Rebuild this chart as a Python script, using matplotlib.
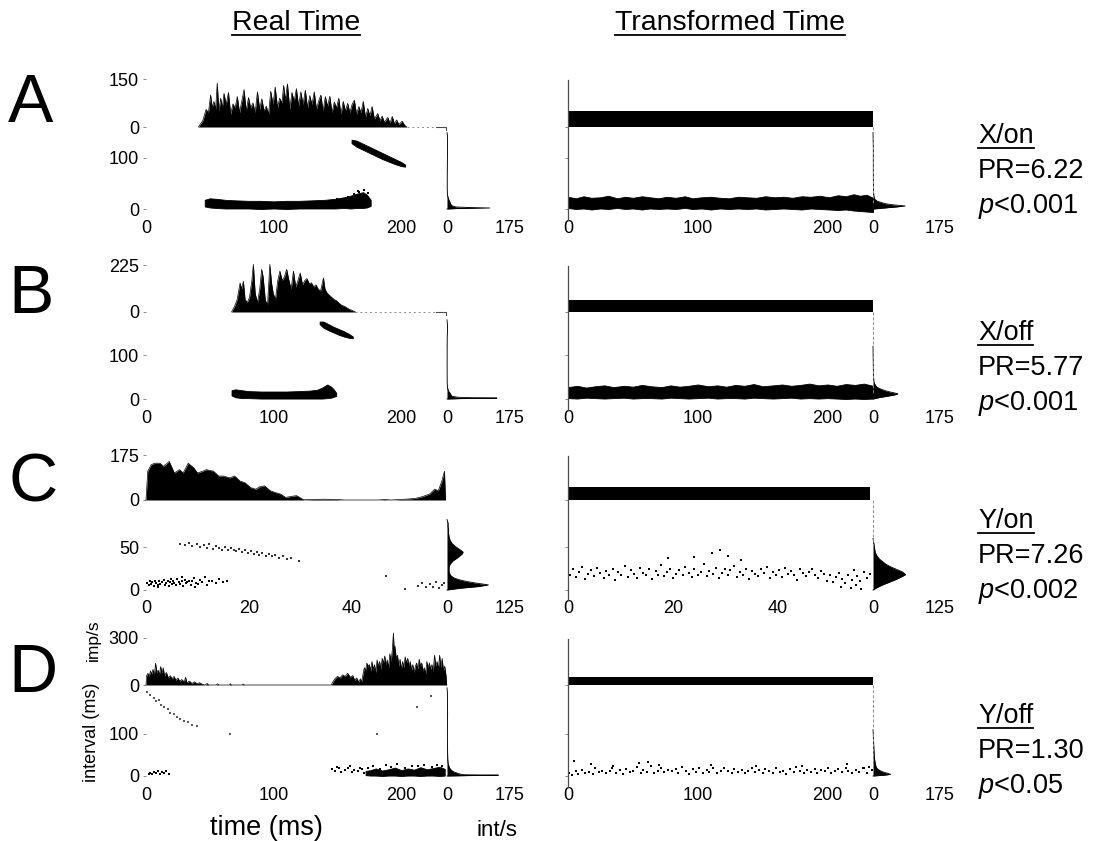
import matplotlib
matplotlib.use("Agg")
import matplotlib.pyplot as plt
from matplotlib.lines import Line2D

plt.rcParams['font.family'] = ['Liberation Sans', 'DejaVu Sans']
plt.rcParams['mathtext.fontset'] = 'custom'
plt.rcParams['mathtext.it'] = 'Liberation Sans:italic'
plt.rcParams['mathtext.rm'] = 'Liberation Sans'

# ---------------- data ----------------
# Real-time PSTHs: vertex times (ms) and rates (imp/s)
A_psth_t = [41, 44.5, 47.1, 48.9, 50.6, 51.9, 53.2, 54.5, 55.8, 57.1, 58.5, 59.8, 61.1, 62.8, 64.6,
            66.3, 68.1, 69.8, 71.5, 73.3, 75, 76.8, 78.5, 80.3, 82, 83.8, 85.5, 87.3, 89, 90.7,
            92.5, 94.2, 96, 97.7, 99.5, 101.2, 103, 104.7, 106.5, 107.8, 109.1, 110.8, 112.6, 114.3, 116.1,
            117.8, 119.5, 121.3, 123, 124.8, 126.5, 128.3, 130, 131.8, 133.5, 135.3, 137, 138.7, 140.5, 142.2,
            144, 145.7, 147.5, 149.2, 151, 152.7, 154.5, 156.2, 158, 159.7, 161.4, 163.2, 164.9, 166.7, 168.4,
            170.2, 171.9, 173.7, 175.4, 177.1, 178.9, 181.5, 183.3, 185, 186.7, 189.4, 191.1, 192.9, 194.6, 196.3,
            198.1, 200.7, 202.5, 204.2]
A_psth_r = [0, 20, 55, 45, 100, 60, 80, 55, 137, 50, 90, 60, 105, 70, 108,
            40, 72, 60, 95, 45, 80, 117, 50, 92, 60, 75, 45, 110, 55, 88,
            50, 65, 40, 112, 70, 125, 60, 90, 75, 130, 85, 135, 55, 108, 80,
            120, 65, 110, 70, 115, 60, 98, 70, 110, 55, 82, 100, 50, 95, 65,
            96, 45, 78, 60, 90, 40, 80, 50, 74, 45, 70, 84, 40, 64, 45,
            80, 30, 58, 35, 64, 25, 42, 20, 34, 15, 30, 12, 33, 10, 22,
            8, 18, 6, 0]

B_psth_t = [67, 69.6, 71.4, 73.7, 74.9, 76.3, 77.6, 79.3, 81.1, 82.9, 84.1, 85.5, 87.3, 89.1, 90.6,
            91.7, 93.5, 95.2, 97.0, 98.3, 99.6, 101.4, 103.2, 104.9, 106.7, 108.5, 110.2, 112, 113.7, 115.5,
            117.3, 119, 120.8, 122.6, 124.3, 126.1, 127.9, 129.6, 131.4, 133.2, 134.9, 136.7, 139, 140.2, 142,
            143.7, 145.5, 147.3, 149, 150.8, 152.6, 154.3, 156.1, 157.8, 159.6, 161.4, 163.1, 164]
B_psth_r = [0, 30, 60, 139, 110, 147, 60, 45, 70, 150, 228, 90, 45, 110, 204,
            170, 55, 35, 228, 140, 90, 60, 150, 196, 150, 170, 204, 150, 110, 196,
            120, 150, 187, 130, 150, 160, 135, 140, 120, 130, 110, 100, 163, 110, 90,
            80, 70, 60, 55, 45, 35, 30, 25, 18, 12, 8, 3, 0]

C_psth_t = [0, 0.34, 1.0, 1.7, 2.7, 3.4, 4.5, 5.5, 6.5, 7.2, 8.2, 9.3, 10.0, 11.0, 11.7,
            13.1, 14.1, 15.1, 16.2, 17.2, 18.2, 19.2, 20.3, 21.3, 22.0, 23.0, 24.1, 25.1, 26.1, 27.1,
            28.2, 29.2, 30.6, 32.3, 34.5, 37.1, 38.5, 45.0, 46.3, 47.5, 50.2, 52.2, 53.6, 55.0, 56.0,
            56.7, 57.4, 57.9, 58.1]
C_psth_r = [0, 112, 137, 143, 143, 131, 150, 105, 118, 105, 143, 124, 105, 112, 118,
            112, 93, 93, 86, 93, 74, 67, 48, 42, 51, 55, 36, 29, 23, 10,
            14, 17, 1, 2, 3, 2, 0, 0, 2, 0, 3, 6, 13, 23, 42,
            36, 74, 112, 0]

D_psth_t = [0, 0.5, 1.5, 2.5, 3.5, 4.5, 5.5, 6.5, 7.5, 8.5, 9.5, 10.5, 11.5, 12.5, 13.5,
            14.5, 16, 17.5, 19, 20.5, 22, 23.5, 25, 26.5, 28, 30, 31, 32, 34, 36,
            38, 40, 42, 44, 46, 48, 49, 55, 56, 57, 65, 66, 67, 75, 76,
            77, 145, 146, 148, 150, 152, 154, 156, 158, 160, 162, 163.5, 165, 166.5, 168,
            169, 170, 171, 172, 173, 174, 175, 176, 177, 178, 179, 180, 181, 182, 183,
            184, 185, 186, 187, 188, 189, 190, 191, 192, 193, 193.8, 194.5, 195, 196, 197,
            198, 199, 200, 201, 202, 203, 204, 205, 206, 207, 208, 209, 210, 211, 212,
            213, 214, 215, 216, 217, 218, 219, 220, 221, 222, 223, 224, 225, 226, 227,
            228, 229, 230, 231, 232, 233, 234, 235, 235.5]
D_psth_r = [0, 60, 75, 55, 90, 70, 100, 60, 139, 80, 95, 65, 118, 75, 110,
            60, 80, 45, 60, 40, 55, 30, 45, 25, 35, 20, 50, 15, 25, 10,
            20, 8, 15, 5, 0, 10, 0, 0, 8, 0, 0, 8, 0, 0, 6,
            0, 0, 15, 40, 55, 45, 65, 55, 75, 50, 60, 30, 45, 20, 40,
            20, 70, 110, 95, 140, 120, 130, 90, 150, 100, 130, 80, 160, 120, 150,
            100, 170, 140, 185, 130, 160, 110, 200, 150, 230, 332, 200, 250, 170, 190,
            120, 165, 100, 150, 110, 180, 140, 170, 120, 150, 95, 130, 80, 120, 140,
            100, 165, 120, 140, 90, 110, 70, 150, 110, 140, 100, 130, 85, 190, 120,
            150, 100, 190, 110, 170, 90, 120, 60, 0]

# Mean rate in transformed time (imp/s)
A_bar, B_bar, C_bar, D_bar = 49, 58, 50, 50

# Interval scatter: dense bands (ms, lower/upper interval in ms)
A_low_t = [46, 50, 55, 62, 70, 80, 90, 100, 110, 120, 130, 140, 148, 155, 160, 165, 170, 173, 176]
A_low_lo = [5, 3, 2, 1, 1, 1, 0, 1, 0, 1, 1, 1, 1, 2, 1, 2, 2, 3, 6]
A_low_hi = [18, 21, 20, 18, 17, 16, 16, 15, 16, 16, 17, 18, 20, 23, 26, 30, 33, 28, 18]
A_up_t = [161, 165, 170, 175, 180, 185, 190, 195, 200, 203]
A_up_lo = [129, 122, 116, 110, 104, 98, 93, 88, 84, 83]
A_up_hi = [136, 134, 128, 122, 116, 110, 104, 98, 92, 87]
A_stray_t = [158, 163, 166, 169, 171, 174, 150, 167]
A_stray_y = [24, 30, 35, 28, 38, 31, 20, 33]

B_low_t = [67, 70, 75, 80, 90, 100, 110, 120, 128, 134, 138, 142, 145, 147, 149]
B_low_lo = [8, 4, 2, 2, 1, 1, 1, 1, 1, 1, 1, 2, 3, 5, 7]
B_low_hi = [20, 22, 20, 18, 17, 17, 17, 18, 19, 21, 26, 33, 28, 22, 14]
B_up_t = [136, 139, 143, 147, 151, 155, 159, 162]
B_up_lo = [170, 162, 156, 151, 146, 142, 139, 138]
B_up_hi = [176, 176, 170, 164, 159, 154, 148, 142]

# Interval scatter: sparse points (ms, interval ms)
CL_low_x = [0.2, 0.5, 0.7, 1.0, 1.2, 1.5, 1.8, 2.0, 2.3, 2.6, 2.8, 3.1, 3.4, 3.6, 3.9, 4.2, 4.4, 4.7, 5.0, 5.3,
            5.5, 5.8, 6.1, 6.4, 6.6, 6.9, 7.2, 7.5, 7.8, 8.0, 8.3, 8.7, 9.0, 9.3, 9.7, 10.1, 10.5, 10.9, 11.4, 11.8,
            12.3, 12.9, 13.5, 14.2, 15.0, 15.8, 2.4, 4.9, 7.0, 9.5]
CL_low_y = [8, 6, 10, 7, 9, 5, 11, 8, 6, 10, 7, 9, 12, 6, 8, 10, 5, 9, 7, 11,
            8, 6, 13, 9, 7, 10, 5, 12, 8, 9, 11, 6, 10, 14, 8, 7, 12, 9, 15, 6,
            10, 11, 8, 13, 9, 10, 4, 13, 15, 3]
CL_up_x = [6.5, 7.6, 8.4, 9.0, 9.8, 10.5, 11.2, 11.8, 12.3, 13.0, 13.6, 14.2, 14.8, 15.3, 15.9, 16.4, 17.0, 17.5,
           18.1, 18.6, 19.2, 19.8, 20.3, 20.9, 21.5, 22.0, 22.6, 23.2, 23.8, 24.4, 25.1, 25.8, 26.5, 27.3, 28.2, 29.6]
CL_up_y = [54, 52, 55, 51, 53, 50, 52, 49, 53, 48, 51, 49, 47, 50, 46, 49, 47, 45,
           48, 44, 46, 43, 45, 42, 44, 41, 43, 40, 42, 39, 41, 37, 39, 36, 37, 34]
CL_end_x = [46.5, 52.8, 53.6, 54.3, 55.0, 55.7, 56.3, 56.9, 57.4, 57.9, 50.2]
CL_end_y = [16, 5, 8, 3, 7, 4, 9, 2, 6, 8, 1]

DL_up_x = [0.5, 3, 6, 8, 10, 12, 14, 17, 19, 22, 24, 27, 30, 33, 36, 40, 66, 181, 223, 212]
DL_up_y = [200, 192, 185, 178, 181, 170, 165, 160, 150, 148, 140, 136, 131, 128, 122, 118, 100, 101, 191, 165]
DL_low_x = [2, 3.5, 5, 6.5, 8, 9.5, 11, 12.5, 14, 16, 18, 146, 148, 151, 153, 156, 158, 161, 163, 166, 169, 171,
            150, 160, 168, 174, 178, 183, 188, 192, 197, 203, 208, 213, 218, 224, 228, 232]
DL_low_y = [4, 8, 5, 10, 6, 11, 4, 9, 7, 12, 5, 16, 12, 18, 10, 14, 20, 9, 15, 12, 17, 8,
            22, 24, 19, 20, 24, 17, 26, 22, 28, 19, 25, 23, 27, 21, 26, 24]
DL_band_t = [172, 176, 180, 185, 190, 195, 200, 205, 210, 215, 220, 225, 230, 234]
DL_band_lo = [2, 1, 1, 0, 1, 1, 0, 1, 1, 0, 1, 1, 0, 1]
DL_band_hi = [12, 14, 18, 13, 16, 20, 14, 18, 15, 21, 16, 19, 22, 17]

# Transformed-time interval bands / points
AR_band_t = [0, 6, 12, 18, 25, 31, 38, 44, 50, 57, 63, 70, 76, 83, 90, 96, 103, 110, 117, 124, 131, 138, 145,
             152, 159, 166, 173, 180, 187, 194, 201, 208, 214, 220, 225, 230, 235]
AR_band_lo = [2, 0, 1, -1, 1, 0, 2, 0, 1, -1, 1, 0, 1, 0, 2, 0, 1, -1, 1, 0, 1, 0, 1,
              -1, 0, 1, 0, -1, 1, 0, -1, -2, -1, -3, -4, -5, -6]
AR_band_hi = [24, 21, 25, 22, 23, 26, 21, 24, 22, 25, 23, 21, 24, 22, 25, 21, 23, 24, 22, 21, 24, 23, 22,
              25, 23, 24, 22, 25, 24, 26, 23, 27, 25, 29, 26, 28, 22]

BR_band_t = [0, 7, 14, 21, 28, 35, 43, 50, 57, 64, 72, 79, 86, 93, 100, 108, 115, 122, 129, 136, 143, 150,
             158, 165, 172, 179, 186, 193, 200, 207, 214, 221, 228, 235]
BR_band_lo = [2, 1, 3, 2, 1, 2, 3, 1, 2, 2, 1, 3, 2, 1, 2, 3, 1, 2, 2, 1, 3, 2, 1, 2, 3, 1, 2, 1, 2, 1, 0, 1, 0, 1]
BR_band_hi = [27, 30, 26, 29, 31, 27, 30, 28, 32, 29, 27, 31, 28, 30, 33, 29, 31, 28, 32, 30, 34, 29,
              31, 33, 30, 32, 35, 31, 33, 30, 34, 32, 35, 30]

CR_x = [0.4, 1.0, 1.6, 2.1, 2.7, 3.2, 3.9, 4.4, 5.0, 5.6, 6.1, 6.8, 7.3, 7.9, 8.5, 9.0, 9.6, 10.2, 10.9, 11.4,
        12.0, 12.6, 13.1, 13.8, 14.3, 14.9, 15.5, 16.0, 16.7, 17.2, 17.8, 18.4, 18.9, 19.5, 20.1, 20.6, 21.2, 21.9,
        22.4, 23.0, 23.6, 24.1, 24.8, 25.3, 25.9, 26.5, 27.0, 27.6, 28.2, 28.8, 29.3, 29.9, 30.5, 31.0, 31.7, 32.2,
        32.8, 33.4, 33.9, 34.5, 35.1, 35.7, 36.2, 36.8, 37.4, 38.0, 38.5, 39.1, 39.7, 40.3, 40.8, 41.4, 42.0, 42.6,
        43.1, 43.7, 44.3, 44.9, 45.4, 46.0, 46.6, 47.2, 47.7, 48.3, 48.9, 49.5, 50.0, 50.6, 51.2, 51.8, 52.3, 52.9,
        53.5, 54.1, 54.6, 55.2, 55.8, 56.4, 57.0, 57.6,
        19.0, 27.5, 29.0, 30.5, 24.0, 33.0, 52.0, 54.0, 56.0, 55.0]
CR_y = [18, 24, 15, 21, 27, 13, 19, 23, 16, 26, 20, 14, 22, 18, 25, 12, 21, 17, 28, 15,
        23, 19, 14, 26, 20, 17, 24, 13, 22, 18, 29, 16, 21, 25, 14, 19, 23, 17, 27, 20,
        15, 24, 18, 21, 30, 16, 22, 19, 26, 14, 20, 24, 17, 23, 28, 15, 21, 18, 25, 13,
        22, 19, 16, 24, 20, 27, 14, 21, 18, 23, 15, 26, 19, 22, 17, 12, 24, 20, 16, 21,
        25, 18, 14, 22, 19, 11, 17, 9, 15, 20, 13, 8, 18, 12, 23, 16, 10, 21, 14, 19,
        37, 43, 46, 40, 38, 35, 4, 2, 1, 6]

DR_x = [1, 3, 6, 8, 11, 13, 16, 19, 21, 24, 26, 29, 32, 34, 37, 40, 42, 45, 48, 50, 53, 56, 58, 61, 64, 66, 69,
        72, 74, 77, 80, 83, 85, 88, 91, 93, 96, 99, 101, 104, 107, 109, 112, 115, 118, 120, 123, 126, 128, 131,
        134, 136, 139, 142, 144, 147, 150, 152, 155, 158, 160, 163, 166, 168, 171, 174, 176, 179, 182, 184, 187,
        190, 192, 195, 198, 200, 203, 206, 208, 211, 214, 216, 219, 222, 224, 227, 230, 232, 234,
        5, 18, 35, 55, 62, 70, 110, 145, 180, 215, 228]
DR_y = [8, 3, 12, 5, 15, 7, 10, 4, 18, 9, 13, 6, 11, 20, 8, 14, 5, 16, 9, 12,
        22, 7, 15, 10, 25, 6, 13, 18, 9, 14, 11, 17, 8, 21, 12, 5, 16, 10, 19, 7,
        14, 9, 18, 6, 13, 20, 11, 8, 16, 10, 15, 7, 12, 19, 9, 14, 6, 17, 11, 8,
        18, 10, 13, 5, 16, 9, 21, 12, 7, 15, 10, 17, 8, 14, 11, 19, 6, 13, 16, 9,
        20, 12, 8, 15, 10, 18, 6, 22, 14,
        35, 28, 24, 30, 33, 26, 27, 25, 23, 29, 20]

# Interval histograms (interval ms, int/s)
AL_hist_int = [0, 1, 2, 3, 4, 6, 8, 10, 14, 18, 25, 30, 40, 60, 90, 110, 130, 145, 150]
AL_hist_rate = [0, 30, 119, 60, 25, 15, 12, 10, 8, 5, 2, 1, 0.6, 0.6, 1, 1.2, 1.2, 1, 0]
AR_hist_int = [0, 2, 4, 6, 8, 10, 12, 15, 18, 22, 30, 50, 80, 120, 150]
AR_hist_rate = [0, 30, 60, 84, 55, 35, 25, 12, 6, 3, 1.5, 1, 0.8, 0.8, 0]
BL_hist_int = [0, 1, 2, 3, 4, 6, 8, 11, 14, 18, 25, 35, 60, 100, 140, 150, 160, 170, 180]
BL_hist_rate = [0, 40, 139, 70, 30, 15, 12, 10, 8, 4, 1.5, 0.5, 0.3, 0.3, 0.5, 1, 1.5, 1, 0]
BR_hist_int = [0, 3, 6, 9, 12, 15, 18, 22, 26, 30, 35, 40, 60, 90, 120]
BR_hist_rate = [0, 15, 35, 55, 65, 50, 35, 22, 12, 7, 4, 2, 1, 0.5, 0]
CL_hist_int = [0, 2, 4, 6, 8, 10, 12, 14, 16, 18, 22, 26, 30, 34, 38, 42, 44, 46, 50, 54, 58, 62, 66, 70, 74, 78, 82]
CL_hist_rate = [0, 25, 62, 82, 58, 38, 24, 14, 9, 6, 4, 4, 6, 12, 22, 30, 32, 28, 18, 10, 6, 4, 3, 3, 2, 2, 0]
CR_hist_int = [0, 3, 6, 9, 12, 15, 18, 21, 24, 27, 30, 33, 36, 40, 44, 48, 52, 56, 60]
CR_hist_rate = [0, 8, 18, 30, 42, 52, 61, 55, 44, 33, 24, 18, 12, 7, 4, 3, 2, 1, 0]
DL_hist_int = [0, 1, 2, 3, 4, 6, 8, 10, 14, 18, 24, 30, 40, 60, 100, 150, 200, 210]
DL_hist_rate = [0, 60, 143, 50, 40, 30, 25, 18, 12, 8, 5, 3, 2, 1.5, 1, 1.5, 1, 0]
DR_hist_int = [0, 2, 4, 6, 8, 10, 13, 16, 20, 25, 30, 40, 50, 60, 70, 80, 90, 100, 110]
DR_hist_rate = [0, 30, 46, 40, 32, 25, 18, 13, 9, 7, 6, 4, 3, 2.5, 2, 1.5, 1, 0.7, 0]

# Panel annotations
letters = ['A', 'B', 'C', 'D']
conditions = ['X/on', 'X/off', 'Y/on', 'Y/off']
pr_values = ['PR=6.22', 'PR=5.77', 'PR=7.26', 'PR=1.30']
p_values = ['$p$<0.001', '$p$<0.001', '$p$<0.002', '$p$<0.05']

# ---------------- layout (pixels) ----------------
W, H = 1098, 841
fig = plt.figure(figsize=(W / 100, H / 100), dpi=100)

L0, L1, LM1 = 146, 446, 510      # real-time column, marginal end
R0, R1, RM1 = 568, 873, 940      # transformed-time column, marginal end

rows = [
    dict(dur=235, xt=[0, 100, 200], mmax=175, pmax=150, pz=127, ptop=79,
         sz=209, sref=100, sref_px=158, stop=132, sbot=219, bar_end=235,
         text_y=143, letter_y=122),
    dict(dur=235, xt=[0, 100, 200], mmax=175, pmax=225, pz=312, ptop=265,
         sz=399, sref=100, sref_px=355, stop=317, sbot=409, bar_end=235,
         text_y=340, letter_y=313),
    dict(dur=58.2, xt=[0, 20, 40], mmax=125, pmax=175, pz=500, ptop=455,
         sz=590, sref=50, sref_px=547, stop=512, sbot=599, bar_end=57.7,
         text_y=528, letter_y=501),
    dict(dur=235, xt=[0, 100, 200], mmax=175, pmax=300, pz=685, ptop=638,
         sz=776, sref=100, sref_px=734, stop=690, sbot=786, bar_end=235,
         text_y=723, letter_y=692),
]

psths = [(A_psth_t, A_psth_r), (B_psth_t, B_psth_r), (C_psth_t, C_psth_r), (D_psth_t, D_psth_r)]
bars = [A_bar, B_bar, C_bar, D_bar]
hists_left = [(AL_hist_int, AL_hist_rate), (BL_hist_int, BL_hist_rate),
              (CL_hist_int, CL_hist_rate), (DL_hist_int, DL_hist_rate)]
hists_right = [(AR_hist_int, AR_hist_rate), (BR_hist_int, BR_hist_rate),
               (CR_hist_int, CR_hist_rate), (DR_hist_int, DR_hist_rate)]


def px_axes(x0, x1, ytop, ybot):
    return fig.add_axes([x0 / W, 1 - ybot / H, (x1 - x0) / W, (ybot - ytop) / H])


def fig_line(x0, y0, x1, y1, **kw):
    fig.add_artist(Line2D([x0 / W, x1 / W], [1 - y0 / H, 1 - y1 / H],
                          transform=fig.transFigure, **kw))


def bare(ax):
    for s in ax.spines.values():
        s.set_visible(False)
    ax.patch.set_alpha(0)
    ax.tick_params(axis='both', labelsize=13, length=2, width=0.6, color='0.45', pad=3)
    ax.tick_params(axis='x', length=0, pad=1)


def band(ax, t, lo, hi):
    ax.fill_between(t, lo, hi, color='k', lw=0.6, edgecolor='k', clip_on=False)


def dots(ax, x, y, size=2.2, color='k'):
    ax.scatter(x, y, s=size, c=color, marker='s', linewidths=0, clip_on=False)


def hist(ax, ints, rates):
    ax.fill_betweenx(ints, 0, rates, color='k', lw=0, clip_on=False)
    ax.plot(rates, ints, color='k', lw=0.6, clip_on=False)


for i, r in enumerate(rows):
    s_scale = (r['sz'] - r['sref_px']) / r['sref']
    s_ylim = (-(r['sbot'] - r['sz']) / s_scale, (r['sz'] - r['stop']) / s_scale)

    # ---- real time: PSTH ----
    ax = px_axes(L0, L1, r['ptop'], r['pz'])
    bare(ax)
    t, rate = psths[i]
    ax.fill_between(t, 0, rate, color='k', lw=0, clip_on=False)
    ax.plot(t, rate, color='k', lw=0.5, clip_on=False)
    ax.set_xlim(0, r['dur'])
    ax.set_ylim(0, r['pmax'])
    ax.set_xticks([])
    ax.set_yticks([0, r['pmax']])
    ax.set_yticklabels(['0', str(r['pmax'])])
    if i < 2:
        ax.plot([t[-1], r['dur'] * 0.965], [0, 0], color='0.55', lw=0.7, ls=(0, (2, 3)), clip_on=False)
        ax.plot([r['dur'] * 0.965, r['dur'], r['dur']], [0, 0, -r['pmax'] * 0.06],
                color='0.3', lw=0.8, clip_on=False)

    # ---- real time: interval scatter ----
    ax = px_axes(L0, L1, r['stop'], r['sbot'])
    bare(ax)
    if i == 0:
        band(ax, A_low_t, A_low_lo, A_low_hi)
        band(ax, A_up_t, A_up_lo, A_up_hi)
        dots(ax, A_stray_t, A_stray_y)
    elif i == 1:
        band(ax, B_low_t, B_low_lo, B_low_hi)
        band(ax, B_up_t, B_up_lo, B_up_hi)
    elif i == 2:
        dots(ax, CL_low_x, CL_low_y)
        dots(ax, CL_up_x, CL_up_y, size=1.6, color='0.2')
        dots(ax, CL_end_x, CL_end_y, size=1.6, color='0.2')
    else:
        dots(ax, DL_up_x, DL_up_y, size=1.4, color='0.35')
        dots(ax, DL_low_x, DL_low_y, size=1.8)
        band(ax, DL_band_t, DL_band_lo, DL_band_hi)
    ax.set_xlim(0, r['dur'])
    ax.set_ylim(*s_ylim)
    ax.set_xticks(r['xt'])
    ax.set_yticks([0, r['sref']])

    # ---- real time: interval histogram ----
    ax = px_axes(L1 + 1, LM1, r['stop'], r['sbot'])
    bare(ax)
    hist(ax, *hists_left[i])
    ax.set_xlim(0, r['mmax'])
    ax.set_ylim(*s_ylim)
    ax.set_yticks([])
    ax.set_xticks([0, r['mmax']])

    # ---- transformed time: flat PSTH ----
    ax = px_axes(R0, R1, r['ptop'], r['pz'])
    bare(ax)
    ax.fill_between([0, r['bar_end']], 0, bars[i], color='k', lw=0)
    ax.set_xlim(0, r['dur'])
    ax.set_ylim(0, r['pmax'])
    ax.set_xticks([])
    ax.set_yticks([0])
    ax.set_yticklabels([])

    # ---- transformed time: interval scatter ----
    ax = px_axes(R0, R1, r['stop'], r['sbot'])
    bare(ax)
    if i == 0:
        band(ax, AR_band_t, AR_band_lo, AR_band_hi)
    elif i == 1:
        band(ax, BR_band_t, BR_band_lo, BR_band_hi)
    elif i == 2:
        dots(ax, CR_x, CR_y, size=1.8)
    else:
        dots(ax, DR_x, DR_y, size=1.8)
    ax.set_xlim(0, r['dur'])
    ax.set_ylim(*s_ylim)
    ax.set_xticks(r['xt'])
    ax.set_yticks([0, r['sref']])
    ax.set_yticklabels([])

    # ---- transformed time: interval histogram ----
    ax = px_axes(R1, RM1, r['stop'], r['sbot'])
    bare(ax)
    hist(ax, *hists_right[i])
    ax.set_xlim(0, r['mmax'])
    ax.set_ylim(*s_ylim)
    ax.set_yticks([])
    ax.set_xticks([0, r['mmax']])

    # column frame lines
    fig_line(R0, r['ptop'] + 1, R0, r['sbot'] + 1, color='0.3', lw=0.9)
    fig_line(R1, r['pz'], R1, r['sz'] - 6, color='0.55', lw=0.7, ls=(0, (3, 2)))

    # panel letter and statistics
    fig.text(8 / W, 1 - r['letter_y'] / H, letters[i], fontsize=49, ha='left', va='baseline')
    fig.text(978 / W, 1 - r['text_y'] / H, conditions[i], fontsize=19.5, ha='left', va='baseline')
    fig.text(978 / W, 1 - (r['text_y'] + 35) / H, pr_values[i], fontsize=19.5, ha='left', va='baseline')
    fig.text(978 / W, 1 - (r['text_y'] + 70) / H, p_values[i], fontsize=19.5, ha='left', va='baseline')

# column titles
title_l = fig.text(296 / W, 1 - 30 / H, 'Real Time', fontsize=20.5, ha='center', va='baseline')
title_r = fig.text(730 / W, 1 - 30 / H, 'Transformed Time', fontsize=20.5, ha='center', va='baseline')

# axis captions
fig.text(93 / W, 1 - 640 / H, 'imp/s', fontsize=12.5, rotation=90, ha='center', va='center')
fig.text(92 / W, 1 - 732 / H, 'interval (ms)', fontsize=13, rotation=90, ha='center', va='center')
fig.text(266 / W, 1 - 828 / H, 'time (ms)', fontsize=19.5, ha='center', va='center')
fig.text(497 / W, 1 - 830 / H, 'int/s', fontsize=16, ha='center', va='center')

# underlines
fig.canvas.draw()
renderer = fig.canvas.get_renderer()
for txt, base in [(title_l, 30), (title_r, 30)]:
    bb = txt.get_window_extent(renderer)
    fig_line(bb.x0, base + 5, bb.x1, base + 5, color='k', lw=1.3)
for t in fig.texts:
    if t.get_text() in conditions:
        bb = t.get_window_extent(renderer)
        base = H - t.get_position()[1] * H
        fig_line(bb.x0, base + 5, bb.x1, base + 5, color='k', lw=1.3)

fig.savefig('out.png', dpi=100)
